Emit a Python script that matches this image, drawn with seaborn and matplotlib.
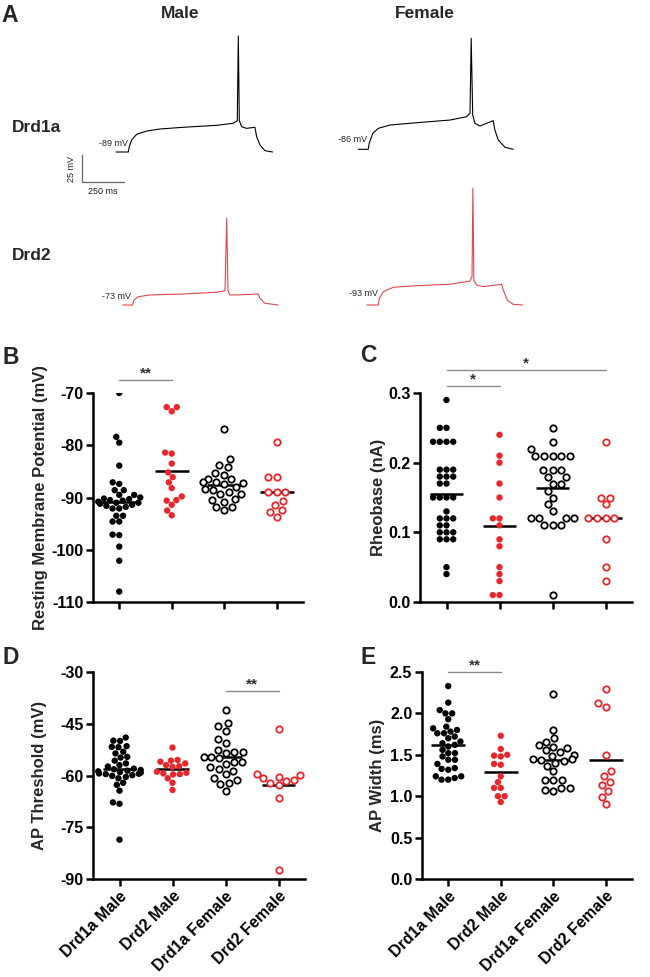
import numpy as np
import pandas as pd
import seaborn as sns
import matplotlib.pyplot as plt

sns.set_theme(style="ticks")
plt.rcParams['font.family'] = ['Liberation Sans', 'DejaVu Sans']
plt.rcParams['font.weight'] = 'bold'
plt.rcParams['axes.labelweight'] = 'bold'

RED = '#e8262b'
TRACE_RED = '#e0484c'

# ---- group order for all scatter panels
groups = ['Drd1a Male', 'Drd2 Male', 'Drd1a Female', 'Drd2 Female']
group_colors = ['black', RED, 'black', RED]
group_open = [False, False, True, True]

# ---- B: resting membrane potential (mV)
rmp_d1_m = [-70.0, -78.4, -79.5, -83.9, -87.1, -87.4, -88.6, -88.6, -89.5, -89.5, -90.0,
            -90.2, -90.3, -90.5, -90.6, -90.8, -91.0, -91.0, -91.2, -91.4, -91.6, -91.8,
            -92.1, -92.1, -93.5, -93.5, -94.6, -94.6, -97.1, -97.2, -99.4, -102.1, -108.0]
rmp_d2_m = [-72.7, -72.7, -73.5, -81.4, -81.6, -83.5, -85.2, -86.1, -87.1, -88.2, -89.8,
            -90.5, -90.6, -91.4, -92.5, -93.4]
rmp_d1_f = [-76.9, -82.7, -83.8, -84.2, -85.3, -85.6, -86.5, -86.5, -87.0, -87.1, -87.3,
            -87.5, -88.0, -88.3, -88.6, -88.9, -89.3, -89.4, -90.3, -90.4, -90.8, -91.8,
            -91.8, -92.4]
rmp_d2_f = [-79.3, -86.0, -86.0, -89.0, -89.0, -89.0, -90.7, -91.4, -92.4, -92.7, -93.7]

# ---- C: rheobase (nA)
rheo_d1_m = [0.29, 0.25, 0.25, 0.23, 0.23, 0.23, 0.23, 0.19, 0.19, 0.19, 0.18, 0.18, 0.18,
             0.17, 0.17, 0.15, 0.15, 0.15, 0.15, 0.13, 0.12, 0.12, 0.12, 0.11, 0.11, 0.10,
             0.10, 0.10, 0.09, 0.09, 0.09, 0.05, 0.04]
rheo_d2_m = [0.24, 0.21, 0.20, 0.17, 0.15, 0.12, 0.12, 0.11, 0.09, 0.08, 0.05, 0.04, 0.03,
             0.01, 0.01]
rheo_d1_f = [0.25, 0.23, 0.22, 0.21, 0.21, 0.21, 0.21, 0.21, 0.19, 0.19, 0.19, 0.18, 0.18,
             0.17, 0.17, 0.16, 0.15, 0.14, 0.13, 0.12, 0.12, 0.12, 0.12, 0.11, 0.11, 0.11,
             0.01]
rheo_d2_f = [0.23, 0.15, 0.15, 0.14, 0.12, 0.12, 0.12, 0.12, 0.09, 0.05, 0.03]

# ---- D: AP threshold (mV)
thr_d1_m = [-49.0, -49.9, -50.0, -51.5, -51.7, -51.8, -53.1, -53.6, -54.6, -54.8, -55.7,
            -56.5, -57.0, -57.4, -58.0, -58.2, -58.4, -58.6, -58.8, -59.0, -59.2, -59.4,
            -59.5, -59.6, -59.9, -60.1, -60.4, -60.8, -62.1, -62.7, -64.4, -67.8, -68.2,
            -78.6]
thr_d2_m = [-51.9, -55.5, -55.7, -56.0, -56.5, -57.0, -57.3, -57.5, -58.9, -59.2, -59.6,
            -59.4, -59.7, -60.8, -62.1, -64.2]
thr_d1_f = [-40.9, -44.7, -45.7, -47.0, -49.5, -50.5, -52.6, -53.1, -53.3, -53.4, -54.5,
            -54.7, -55.0, -56.0, -56.0, -56.7, -57.4, -58.2, -58.6, -59.6, -60.8, -61.3,
            -62.1, -62.5, -64.4]
thr_d2_f = [-46.6, -59.6, -59.8, -60.3, -60.8, -61.3, -61.5, -62.3, -62.8, -66.6, -87.3]

# ---- E: AP width (ms)
wid_d1_m = [2.33, 2.13, 2.04, 2.00, 2.00, 1.93, 1.84, 1.82, 1.80, 1.78, 1.76, 1.76, 1.72,
            1.70, 1.66, 1.64, 1.62, 1.60, 1.56, 1.52, 1.52, 1.48, 1.44, 1.44, 1.39, 1.34,
            1.33, 1.32, 1.24, 1.24, 1.22, 1.20, 1.20]
wid_d2_m = [1.73, 1.57, 1.50, 1.49, 1.48, 1.39, 1.38, 1.24, 1.17, 1.10, 1.10, 1.00, 1.00,
            0.93]
wid_d1_f = [2.23, 1.80, 1.70, 1.66, 1.62, 1.60, 1.58, 1.56, 1.53, 1.50, 1.49, 1.45, 1.45,
            1.44, 1.43, 1.40, 1.37, 1.30, 1.20, 1.20, 1.19, 1.10, 1.10, 1.08, 1.06]
wid_d2_f = [2.30, 2.13, 2.08, 1.50, 1.30, 1.24, 1.17, 1.13, 1.06, 0.99, 0.90]

# ---- A: example traces, keypoints (time ms, membrane potential mV)
d1_male_t = [0, 73, 79, 93, 123, 182, 262, 401, 599, 698, 722, 728, 734, 748, 777, 827,
             837, 857, 887, 932]
d1_male_v = [-89, -89, -84.1, -77.9, -72.6, -69.6, -67.7, -66.1, -64.3, -62.4, -60.0, 18.4,
             -60.0, -65.6, -67.1, -66.1, -74.8, -82.5, -87.8, -89]
d1_female_t = [0, 59, 65, 86, 119, 189, 347, 546, 645, 665, 672, 681, 694, 724, 803, 813,
               833, 873, 922]
d1_female_v = [-86, -86, -80.4, -71.2, -66.6, -63.5, -61.4, -58.9, -55.8, -52.7, 16.8,
               -54.2, -61.9, -64.4, -59.5, -68.1, -77.4, -84.1, -86]
d2_male_t = [0, 59, 67, 93, 162, 361, 559, 609, 619, 627, 638, 678, 807, 817, 847, 926]
d2_male_v = [-73, -73, -68.4, -65.3, -63.7, -62.8, -61.2, -59.8, 7.3, -59.8, -63.7, -63.7,
             -62.8, -66.8, -71.4, -73]
d2_female_t = [0, 69, 75, 99, 158, 297, 496, 615, 627, 632, 638, 654, 694, 803, 813, 837,
               872, 928]
d2_female_v = [-93, -93, -86.8, -80.7, -76.6, -75.1, -73.8, -70.8, -66.8, 15.0, -69.9,
               -74.5, -76.0, -73.8, -79.1, -88.4, -92.4, -93]

W, H = 650, 977
fig = plt.figure(figsize=(6.5, 9.77), dpi=100)
fig.patch.set_facecolor('white')

MS_PX = 250 / 42.0   # ms per pixel in the trace panel
MV_PX = 25 / 27.0    # mV per pixel


def trace_axes(x0, ybase, vbase, tmin=-300, tmax=1000, vlo=-45, vhi=120):
    left = x0 + tmin / MS_PX
    width = (tmax - tmin) / MS_PX
    top = ybase - vhi / MV_PX
    height = (vhi - vlo) / MV_PX
    ax = fig.add_axes([left / W, 1 - (top + height) / H, width / W, height / H])
    ax.set_xlim(tmin, tmax)
    ax.set_ylim(vbase + vlo, vbase + vhi)
    ax.axis('off')
    return ax


traces = [
    (d1_male_t, d1_male_v, 116, 152, -89, 'black', '-89 mV', 71, -80.7),
    (d1_female_t, d1_female_v, 358.3, 149.3, -86, 'black', '-86 mV', 52, -76.5),
    (d2_male_t, d2_male_v, 122.7, 305, -73, TRACE_RED, '-73 mV', 49, -64.7),
    (d2_female_t, d2_female_v, 366.7, 305, -93, TRACE_RED, '-93 mV', 67, -82.8),
]
trace_axs = []
for t, v, x0, yb, vb, col, lab, lx, ly in traces:
    tax = trace_axes(x0, yb, vb)
    sns.lineplot(x=t, y=v, sort=False, estimator=None, color=col, lw=0.8, ax=tax)
    tax.text(lx, ly, lab, ha='right', va='center', fontsize=6.5, fontweight='normal',
             color='#222222')
    trace_axs.append(tax)

# scale bar (25 mV, 250 ms) next to the male Drd1a trace
sax = trace_axs[0]
sb_t, sb_v = -202, -116.8
sax.plot([sb_t, sb_t, sb_t + 250], [sb_v + 25, sb_v, sb_v], color='#666666', lw=0.9,
         clip_on=False)
sax.text(sb_t - 60, sb_v + 12.5, '25 mV', rotation=90, ha='center', va='center',
         fontsize=6.5, fontweight='normal', color='#222222')
sax.text(sb_t + 125, sb_v - 8.5, '250 ms', ha='center', va='center', fontsize=6.5,
         fontweight='normal', color='#222222')

fig.text(180 / W, 1 - 13 / H, 'Male', ha='center', va='center', fontsize=12.5)
fig.text(425 / W, 1 - 13 / H, 'Female', ha='center', va='center', fontsize=12.5)
fig.text(12 / W, 1 - 128 / H, 'Drd1a', ha='left', va='center', fontsize=12.5)
fig.text(12 / W, 1 - 255 / H, 'Drd2', ha='left', va='center', fontsize=12.5)

for letter, x, y in [('A', 1, 15), ('B', 2, 357), ('C', 360, 356), ('D', 2, 658),
                     ('E', 360, 658)]:
    fig.text(x / W, 1 - y / H, letter, ha='left', va='center', fontsize=16.5)


def scatter_panel(rect, values, ylim, yticks, fmt, ylabel, label_x, show_xlabels, sigs):
    ax = fig.add_axes([rect[0] / W, 1 - rect[3] / H, (rect[2] - rect[0]) / W,
                       (rect[3] - rect[1]) / H])
    df = pd.DataFrame({'group': np.repeat(groups, [len(v) for v in values]),
                       'value': np.concatenate(values)})
    sns.swarmplot(data=df, x='group', y='value', order=groups, hue='group',
                  hue_order=groups, palette=group_colors, size=4.6, linewidth=0,
                  legend=False, ax=ax)
    for coll in ax.collections:
        off = coll.get_offsets()
        if len(off) == 0:
            continue
        i = int(round(np.mean(off[:, 0])))
        if group_open[i]:
            coll.set_facecolor('white')
            coll.set_edgecolor(group_colors[i])
            coll.set_linewidth(1.3)
    # group means as short horizontal lines
    sns.boxplot(data=df, x='group', y='value', order=groups, showmeans=True, meanline=True,
                showbox=False, showcaps=False, showfliers=False,
                whiskerprops={'visible': False}, medianprops={'visible': False},
                meanprops={'color': 'black', 'ls': '-', 'lw': 1.8}, width=0.64, ax=ax)
    ax.set_xlim(-0.5, 3.5)
    ax.set_ylim(*ylim)
    ax.set_yticks(yticks)
    ax.set_yticklabels([fmt.format(t) for t in yticks])
    ax.set_xticks(range(4))
    if show_xlabels:
        ax.set_xticklabels(groups, rotation=45, ha='right', rotation_mode='anchor')
    else:
        ax.set_xticklabels([])
    ax.set_xlabel('')
    ax.set_ylabel(ylabel, fontsize=12)
    ax.yaxis.label.set_va('center')
    ax.yaxis.set_label_coords(label_x, 0.5)
    sns.despine(ax=ax)
    for s in ['left', 'bottom']:
        ax.spines[s].set_linewidth(1.8)
        ax.spines[s].set_color('black')
    ax.tick_params(axis='both', length=5, width=1.8, labelsize=11.5, colors='black',
                   direction='out', pad=2)
    ax.set_facecolor('none')
    for a, b, y, star in sigs:
        ax.plot([a, b], [y, y], color='#8a8a8a', lw=1.0, clip_on=False)
        ax.text((a + b) / 2, y, star, ha='center', va='bottom', fontsize=11,
                color='#333333', clip_on=False)
    return ax


scatter_panel((93, 393, 303, 602), [rmp_d1_m, rmp_d2_m, rmp_d1_f, rmp_d2_f], (-110, -70),
              [-110, -100, -90, -80, -70], '{:.0f}', 'Resting Membrane Potential (mV)',
              -0.252, False, [(0, 1, -67.6, '**')])
scatter_panel((420, 393, 632, 602), [rheo_d1_m, rheo_d2_m, rheo_d1_f, rheo_d2_f], (0, 0.3),
              [0.0, 0.1, 0.2, 0.3], '{:.1f}', 'Rheobase (nA)', -0.198, False,
              [(0, 1, 0.310, '*'), (0, 3, 0.333, '*')])
scatter_panel((93, 672, 305, 879), [thr_d1_m, thr_d2_m, thr_d1_f, thr_d2_f], (-90, -30),
              [-90, -75, -60, -45, -30], '{:.0f}', 'AP Threshold (mV)', -0.25, True,
              [(2, 3, -35.5, '**')])
scatter_panel((422, 672, 632, 879), [wid_d1_m, wid_d2_m, wid_d1_f, wid_d2_f], (0, 2.5),
              [0.0, 0.5, 1.0, 1.5, 2.0, 2.5], '{:.1f}', 'AP Width (ms)', -0.21, True,
              [(0, 1, 2.5, '**')])

fig.savefig('out.png', dpi=100, facecolor='white')
